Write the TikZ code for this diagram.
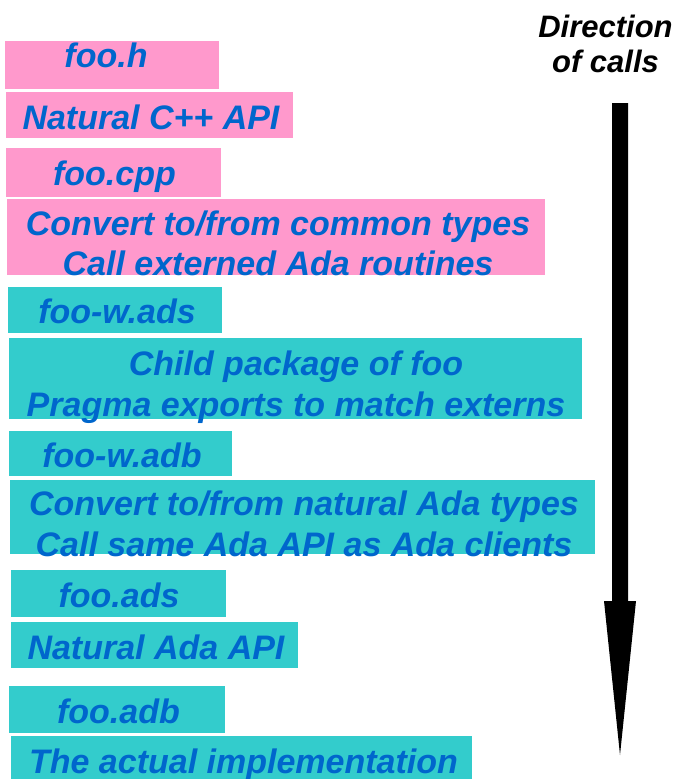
\documentclass[tikz,border=0pt]{standalone}
\usepackage{fontspec}
\setmainfont{Liberation Sans}
\usetikzlibrary{fit}
\definecolor{boxpink}{RGB}{255,153,204}
\definecolor{boxteal}{RGB}{51,204,204}
\definecolor{txtblue}{RGB}{0,102,204}
\tikzset{
  pinkbox/.style={fill=boxpink, draw=white, line width=0.8pt, inner sep=0pt},
  tealbox/.style={fill=boxteal, draw=white, line width=0.8pt, inner sep=0pt},
  lbl/.style={text=txtblue, font=\fontsize{34}{40.5}\selectfont\bfseries\itshape, inner sep=0pt, anchor=base, align=center},
  dirlbl/.style={text=black, font=\fontsize{31}{35}\selectfont\bfseries\itshape, inner sep=0pt, anchor=base, align=center},
}
\begin{document}
\begin{tikzpicture}[x=1pt,y=-1pt]
\useasboundingbox[fill=white] (0,0) rectangle (678,779);
% boxes
\node[pinkbox, fit={(4,40)(219,89)}] (b1) {};
\node[pinkbox, fit={(5,91)(293,138)}] (b2) {};
\node[pinkbox, fit={(5,147)(221,197)}] (b3) {};
\node[pinkbox, fit={(6,198)(545,275)}] (b4) {};
\node[tealbox, fit={(7,286)(222,333)}] (b5) {};
\node[tealbox, fit={(8,337)(582,419)}] (b6) {};
\node[tealbox, fit={(8,430)(232,476)}] (b7) {};
\node[tealbox, fit={(9,479)(595,554)}] (b8) {};
\node[tealbox, fit={(10,569)(226,617)}] (b9) {};
\node[tealbox, fit={(10,621)(298,668)}] (b10) {};
\node[tealbox, fit={(8,685)(225,733)}] (b11) {};
\node[tealbox, fit={(10,735)(472,781)}] (b12) {};
% texts (multi-line nodes are anchored at the baseline of their last line)
\node[lbl] (t1) at (106,67) {foo.h};
\node[lbl] (t2) at (151,129) {Natural C++ API};
\node[lbl] (t3) at (114.5,185) {foo.cpp};
\node[lbl] (t4) at (278,275.5) {Convert to/from common types\\Call externed Ada routines};
\node[lbl] (t5) at (117,323) {foo-w.ads};
\node[lbl] (t6) at (296,416) {Child package of foo\\Pragma exports to match externs};
\node[lbl] (t7) at (122,467) {foo-w.adb};
\node[lbl] (t8) at (304,556) {Convert to/from natural Ada types\\Call same Ada API as Ada clients};
\node[lbl] (t9) at (119,607) {foo.ads};
\node[lbl] (t10) at (156,659) {Natural Ada API};
\node[lbl] (t11) at (118.5,723) {foo.adb};
\node[lbl] (t12) at (243.5,773) {The actual implementation};
% direction
\node[dirlbl] (dir) at (605.5,72) {Direction\\of calls};
\coordinate (atop) at (620,103);
\coordinate (atip) at (620,755);
\fill[black] ([xshift=-8pt]atop) -- ([xshift=8pt]atop) -- ([xshift=8pt,yshift=-498pt]atop) -- ([xshift=16pt,yshift=-498pt]atop) -- (atip) -- ([xshift=-16pt,yshift=-498pt]atop) -- ([xshift=-8pt,yshift=-498pt]atop) -- cycle;
\end{tikzpicture}
\end{document}
